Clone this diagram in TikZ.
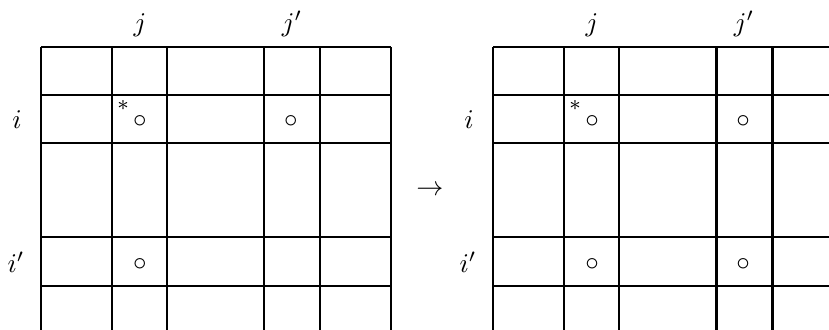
\documentclass[tikz,border=0pt]{standalone}
\usepackage{amsmath, amssymb}
\usetikzlibrary{positioning}

\begin{document}
\begin{tikzpicture}[x=0.013cm, y=-0.013cm,
    gridline/.style={line width=1.1pt},
    entry/.style={inner sep=0pt}]
    \useasboundingbox (0,0) rectangle (829,329);
    \clip (0,0) rectangle (829,329);
    \foreach \ox/\sd in {0/L,452/R} {
        % grid
        \foreach \y in {47,95,143,237,286}
            \draw[gridline] (\ox+41,\y) -- (\ox+391,\y);
        \foreach \x in {41,112,167,264,320,391}
            \draw[gridline] (\ox+\x,47) -- (\ox+\x,335);
        % labels
        \node[anchor=base] (j\sd) at (\ox+140,31) {$j$};
        \node[anchor=base] (jp\sd) at (\ox+292,31) {$j'$};
        \node[anchor=base] (i\sd) at (\ox+17,128) {$i$};
        \node[anchor=base] (ip\sd) at (\ox+16,272) {$i'$};
        % entries
        \node[entry] (ast\sd) at (\ox+123,105) {\footnotesize$\ast$};
        \node[entry] (ij\sd) at (\ox+140,121) {$\circ$};
        \node[entry] (ijp\sd) at (\ox+291,121) {$\circ$};
        \node[entry] (ipj\sd) at (\ox+140,264) {$\circ$};
    }
    \node[entry] (ipjpR) at (452+291,264) {$\circ$};
    % step
    \node (to) at (430,191) {$\rightarrow$};
\end{tikzpicture}
\end{document}
